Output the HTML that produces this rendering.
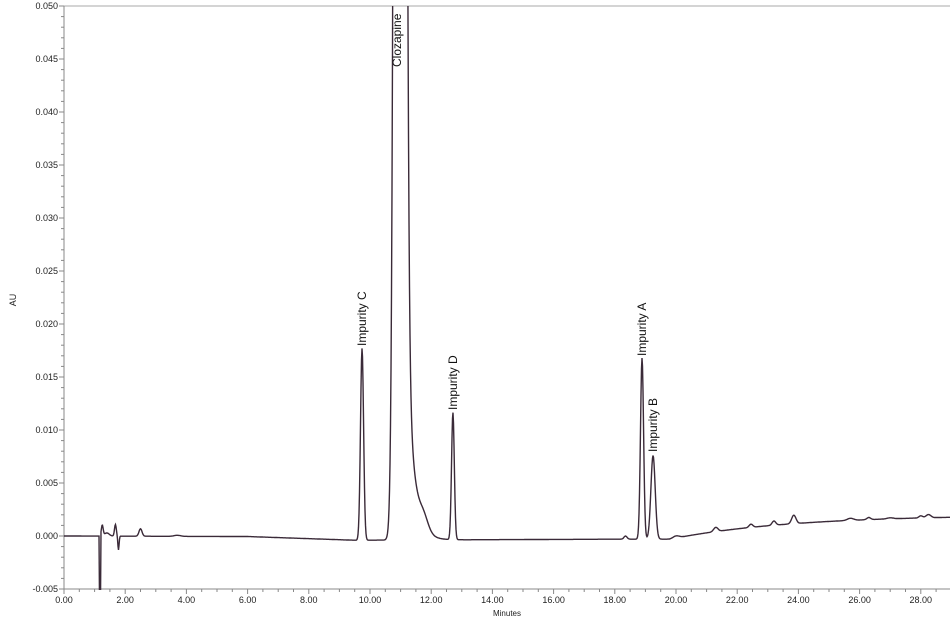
<!DOCTYPE html>
<html><head><meta charset="utf-8"><style>
html,body{margin:0;padding:0;background:#fff;}
svg{display:block;font-family:"Liberation Sans",sans-serif;}
</style></head><body>
<svg id="s" width="950" height="620" viewBox="0 0 950 620" xmlns="http://www.w3.org/2000/svg">
<defs><clipPath id="c"><rect x="64" y="6" width="886" height="584"/></clipPath></defs>
<line x1="64" y1="6" x2="950" y2="6" stroke="#aaa" stroke-width="1"/>
<line x1="64" y1="6" x2="64" y2="589" stroke="#888" stroke-width="1"/>
<line x1="64" y1="589" x2="950" y2="589" stroke="#888" stroke-width="1"/>
<g id="ticks" stroke="#888" stroke-width="1"></g>
<g id="labs" font-size="9" fill="#222"></g>
<text x="16" y="300" font-size="9" fill="#222" transform="rotate(-90 16 300)" text-anchor="middle">AU</text>
<text x="507" y="616" font-size="8" fill="#222" text-anchor="middle">Minutes</text>
<path id="p" d="" fill="none" stroke="#3a2a38" stroke-width="1.4" clip-path="url(#c)"/>
<g font-size="12" fill="#111">
<text transform="translate(366 346) rotate(-90)">Impurity C</text>
<text transform="translate(401 67) rotate(-90)">Clozapine</text>
<text transform="translate(457 410) rotate(-90)">Impurity D</text>
<text transform="translate(646 356) rotate(-90)">Impurity A</text>
<text transform="translate(657 452) rotate(-90)">Impurity B</text>
</g>
</svg>
<script>
var X=function(t){return 64+30.6*t;}, Y=function(v){return 536-v*10600;};
var tk=document.getElementById('ticks'), lb=document.getElementById('labs'), ns="http://www.w3.org/2000/svg";
function el(p,n,a,txt){var e=document.createElementNS(ns,n);for(var k in a)e.setAttribute(k,a[k]);if(txt)e.textContent=txt;p.appendChild(e);}
for(var i=-5;i<=50;i++){var y=Y(i/1000);var maj=(i%5==0);el(tk,'line',{x1:64-(maj?5:3),y1:y,x2:64,y2:y});
 if(maj)el(lb,'text',{x:58,y:y+3,'text-anchor':'end'},(i/1000).toFixed(3));}
for(var j=0;j<=58;j++){var t=j/2,x=X(t);if(x>950)break;var maj=(j%4==0);el(tk,'line',{x1:x,y1:589,x2:x,y2:589+(maj?5:3)});
 if(maj)el(lb,'text',{x:x,y:603,'text-anchor':'middle'},t.toFixed(2));}
function g(t,c,h,s){return h*Math.exp(-0.5*Math.pow((t-c)/s,2));}
function base(t){
 if(t<6)return -0.00005*t/6;
 if(t<9.5)return -0.00005-0.00035*(t-6)/3.5;
 if(t<18)return -0.0004+0.0001*(t-9.5)/8.5;
 if(t<19.8)return -0.0003;
 return -0.0003+0.0023*(1-Math.exp(-(t-19.8)/4));
}
var P=[[9.74,0.0181,0.05],[10.98,0.5,0.112],[12.71,0.012,0.045],[18.89,0.0171,0.05],[19.25,0.0079,0.07],
[1.25,0.001,0.03],[1.4,0.0003,0.08],[1.68,0.0011,0.03],[1.78,-0.0013,0.02],[2.5,0.0007,0.05],[3.7,0.0001,0.1],
[18.35,0.0003,0.05],[20.0,0.0002,0.1],[21.3,0.0004,0.07],[22.45,0.0003,0.06],[23.2,0.0004,0.06],[23.85,0.0008,0.07],
[25.7,0.0002,0.1],[26.3,0.0002,0.06],[27.0,0.0001,0.1],[28.0,0.0002,0.06],[28.25,0.0003,0.08]];
var d="";
for(var x=64;x<=951;x+=0.5){var t=(x-64)/30.6,v=base(t);
 for(var k=0;k<P.length;k++)v+=g(t,P[k][0],P[k][1],P[k][2]);
 if(t>11.2)v+=0.02*Math.exp(-(t-11.2)/0.22)+g(t,11.75,0.0012,0.15);
 if(t>1.15&&t<1.2)v=-0.006;
 d+=(d?"L":"M")+x.toFixed(1)+" "+Y(v).toFixed(1);}
document.getElementById('p').setAttribute('d',d);
</script>
</body></html>
